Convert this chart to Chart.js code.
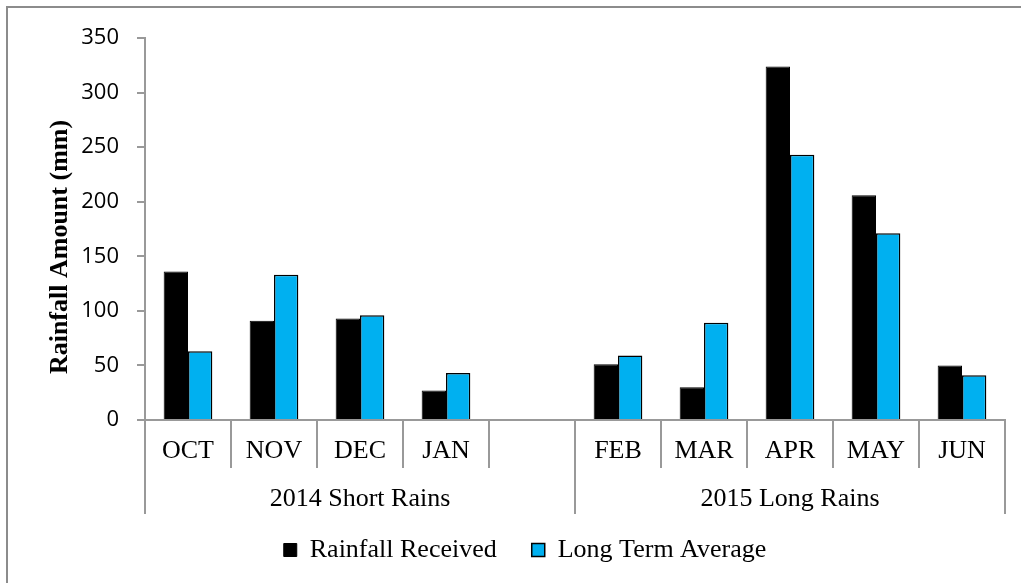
<!DOCTYPE html>
<html>
<head>
<meta charset="utf-8">
<script src="https://cdn.jsdelivr.net/npm/chart.js@4/dist/chart.umd.min.js"></script>
<style>
  body { margin: 0; background: #fff; }
  canvas { display: block; }
</style>
</head>
<body>
<canvas id="chart" width="1021" height="583"></canvas>
<script>
var months = ['OCT', 'NOV', 'DEC', 'JAN', '', 'FEB', 'MAR', 'APR', 'MAY', 'JUN'];
var rainfallReceived = [136, 91, 93, 27, null, 51, 30, 324, 206, 50];
var longTermAverage = [63, 133, 96, 43, null, 59, 89, 243, 171, 41];
var seasonLabels = ['2014 Short Rains', '2015 Long Rains'];
var seasonStart = [0, 5];
var seasonEnd = [4, 9];
var yTicks = [0, 50, 100, 150, 200, 250, 300, 350];

var axisGray = '#999999';
var serif = '"Liberation Serif", "Times New Roman", serif';

// frame, y title, season labels and their dividers
var extras = {
  id: 'extras',
  afterDraw: function(chart) {
    var ctx = chart.ctx;
    var x = chart.scales.x;
    var area = chart.chartArea;
    var half = (x.getPixelForValue(1) - x.getPixelForValue(0)) / 2;

    ctx.save();
    ctx.strokeStyle = '#8c8c8c';
    ctx.lineWidth = 2;
    ctx.beginPath();
    ctx.moveTo(7, 583);
    ctx.lineTo(7, 7);
    ctx.lineTo(1021, 7);
    ctx.stroke();

    ctx.strokeStyle = axisGray;
    ctx.lineWidth = 2;
    for (var i = 0; i < seasonLabels.length; i++) {
      var left = x.getPixelForValue(seasonStart[i]) - half;
      var right = x.getPixelForValue(seasonEnd[i]) + half;
      ctx.beginPath();
      ctx.moveTo(left, area.bottom);
      ctx.lineTo(left, area.bottom + 94);
      ctx.moveTo(right, area.bottom);
      ctx.lineTo(right, area.bottom + 94);
      ctx.stroke();
      ctx.fillStyle = '#000';
      ctx.font = '26px ' + serif;
      ctx.textAlign = 'center';
      ctx.textBaseline = 'middle';
      ctx.fillText(seasonLabels[i], (left + right) / 2, area.bottom + 79);
    }

    ctx.translate(60, 247);
    ctx.rotate(-Math.PI / 2);
    ctx.font = 'bold 26px ' + serif;
    ctx.textAlign = 'center';
    ctx.textBaseline = 'middle';
    ctx.fillStyle = '#000';
    ctx.fillText('Rainfall Amount (mm)', 0, 0);
    ctx.restore();
  }
};

new Chart(document.getElementById('chart'), {
  type: 'bar',
  data: {
    labels: months,
    datasets: [{
      label: 'Rainfall Received',
      data: rainfallReceived,
      backgroundColor: '#000000',
      borderColor: '#000000',
      borderWidth: 1
    }, {
      label: 'Long Term Average',
      data: longTermAverage,
      backgroundColor: '#00B0F0',
      borderColor: '#000000',
      borderWidth: 1.5
    }]
  },
  options: {
    responsive: false,
    animation: false,
    devicePixelRatio: 1,
    layout: { padding: { left: 45, right: 16, top: 38, bottom: 10 } },
    datasets: { bar: { categoryPercentage: 0.566, barPercentage: 1 } },
    plugins: {
      tooltip: { enabled: false },
      legend: {
        position: 'bottom',
        labels: {
          boxWidth: 13,
          boxHeight: 13,
          padding: 35,
          color: '#000',
          font: { family: serif, size: 26 }
        }
      }
    },
    scales: {
      x: {
        afterFit: function(scale) { scale.height = 82; },
        border: { display: true, color: axisGray, width: 2 },
        grid: {
          display: true,
          drawOnChartArea: false,
          offset: true,
          tickLength: 48,
          color: axisGray,
          lineWidth: 2
        },
        ticks: {
          padding: -30,
          color: '#000',
          maxRotation: 0,
          autoSkip: false,
          font: { family: serif, size: 26, lineHeight: 1 }
        }
      },
      y: {
        min: 0,
        max: 350,
        afterFit: function(scale) { scale.width = 100; },
        afterBuildTicks: function(scale) {
          scale.ticks = yTicks.map(function(v) { return { value: v }; });
        },
        border: { display: true, color: axisGray, width: 2 },
        grid: {
          display: true,
          drawOnChartArea: false,
          tickLength: 8,
          color: axisGray,
          lineWidth: 2
        },
        ticks: {
          padding: 18,
          color: '#000',
          font: { family: '"Open Sans", sans-serif', size: 22 }
        }
      }
    }
  },
  plugins: [extras]
});
</script>
</body>
</html>
